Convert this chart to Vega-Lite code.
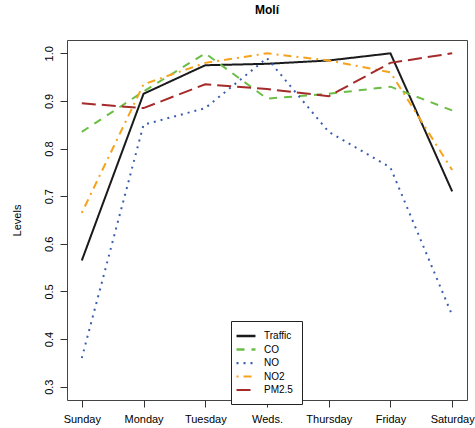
{
  "$schema": "https://vega.github.io/schema/vega-lite/v6.json",
  "width": 400,
  "height": 360,
  "autosize": {"type": "none"},
  "padding": {"left": 67, "top": 40, "right": 8, "bottom": 28},
  "background": "white",
  "title": {"text": "Molí", "fontSize": 12, "fontWeight": "bold", "font": "Liberation Sans", "anchor": "middle", "offset": 23, "color": "#000"},
  "config": {
    "font": "Liberation Sans",
    "view": {"stroke": "#444", "strokeWidth": 1},
    "axis": {"grid": false, "domain": false, "tickColor": "#333", "tickSize": 7, "labelColor": "#000", "labelFontSize": 11, "titleFontSize": 11, "titleFontWeight": "normal", "titleColor": "#000"}
  },
  "data": {"values": [
    {"day": "Sunday", "series": "Traffic", "value": 0.565},
    {"day": "Monday", "series": "Traffic", "value": 0.915},
    {"day": "Tuesday", "series": "Traffic", "value": 0.975},
    {"day": "Weds.", "series": "Traffic", "value": 0.978},
    {"day": "Thursday", "series": "Traffic", "value": 0.985},
    {"day": "Friday", "series": "Traffic", "value": 1.0},
    {"day": "Saturday", "series": "Traffic", "value": 0.71},
    {"day": "Sunday", "series": "CO", "value": 0.835},
    {"day": "Monday", "series": "CO", "value": 0.92},
    {"day": "Tuesday", "series": "CO", "value": 1.0},
    {"day": "Weds.", "series": "CO", "value": 0.905},
    {"day": "Thursday", "series": "CO", "value": 0.915},
    {"day": "Friday", "series": "CO", "value": 0.93},
    {"day": "Saturday", "series": "CO", "value": 0.88},
    {"day": "Sunday", "series": "NO", "value": 0.36},
    {"day": "Monday", "series": "NO", "value": 0.85},
    {"day": "Tuesday", "series": "NO", "value": 0.885},
    {"day": "Weds.", "series": "NO", "value": 0.99},
    {"day": "Thursday", "series": "NO", "value": 0.835},
    {"day": "Friday", "series": "NO", "value": 0.76},
    {"day": "Saturday", "series": "NO", "value": 0.45},
    {"day": "Sunday", "series": "NO2", "value": 0.665},
    {"day": "Monday", "series": "NO2", "value": 0.935},
    {"day": "Tuesday", "series": "NO2", "value": 0.98},
    {"day": "Weds.", "series": "NO2", "value": 1.0},
    {"day": "Thursday", "series": "NO2", "value": 0.985},
    {"day": "Friday", "series": "NO2", "value": 0.96},
    {"day": "Saturday", "series": "NO2", "value": 0.755},
    {"day": "Sunday", "series": "PM2.5", "value": 0.895},
    {"day": "Monday", "series": "PM2.5", "value": 0.885},
    {"day": "Tuesday", "series": "PM2.5", "value": 0.935},
    {"day": "Weds.", "series": "PM2.5", "value": 0.925},
    {"day": "Thursday", "series": "PM2.5", "value": 0.91},
    {"day": "Friday", "series": "PM2.5", "value": 0.98},
    {"day": "Saturday", "series": "PM2.5", "value": 1.0}
  ]},
  "mark": {"type": "line", "strokeWidth": 2, "strokeCap": "butt"},
  "encoding": {
    "x": {"field": "day", "type": "ordinal",
      "sort": ["Sunday", "Monday", "Tuesday", "Weds.", "Thursday", "Friday", "Saturday"],
      "scale": {"type": "point", "padding": 0.24},
      "axis": {"title": null, "labelAngle": 0, "labelPadding": 6}},
    "y": {"field": "value", "type": "quantitative",
      "scale": {"domain": [0.272, 1.028], "nice": false, "zero": false},
      "axis": {"title": "Levels", "values": [0.3, 0.4, 0.5, 0.6, 0.7, 0.8, 0.9, 1.0], "format": ".1f", "labelAngle": -90, "labelAlign": "center", "labelBaseline": "bottom", "labelPadding": 6, "titlePadding": 21}},
    "color": {"field": "series", "type": "nominal",
      "scale": {"domain": ["Traffic", "CO", "NO", "NO2", "PM2.5"], "range": ["#1a1a1a", "#6abe45", "#3a5fb0", "#f7a21b", "#a52a2a"]},
      "legend": {"title": null, "orient": "none", "legendX": 164, "legendY": 281, "symbolType": "M-2,0L2,0", "symbolSize": 90, "symbolStrokeWidth": 1.3, "labelFontSize": 10, "labelColor": "#000", "strokeColor": "#222", "fillColor": "white", "padding": 9, "rowPadding": 2.5, "labelOffset": 12,
        "encode": {"symbols": {"update": {"strokeDash": {"signal": "datum.value === 'CO' ? [4,4] : datum.value === 'NO' ? [1,3] : datum.value === 'NO2' ? [1,3,4,3] : datum.value === 'PM2.5' ? [7,3] : [1,0]"}, "strokeWidth": {"signal": "datum.value === 'Traffic' ? 1.5 : 1.3"}}}}}},
    "strokeDash": {"field": "series", "type": "nominal",
      "scale": {"domain": ["Traffic", "CO", "NO", "NO2", "PM2.5"], "range": [[1, 0], [8, 7], [2, 5], [2, 5, 8, 5], [14, 6]]},
      "legend": null},
    "strokeWidth": {"field": "series", "type": "nominal",
      "scale": {"domain": ["Traffic", "CO", "NO", "NO2", "PM2.5"], "range": [2.5, 2, 1.6, 2, 2.2]},
      "legend": null}
  }
}
